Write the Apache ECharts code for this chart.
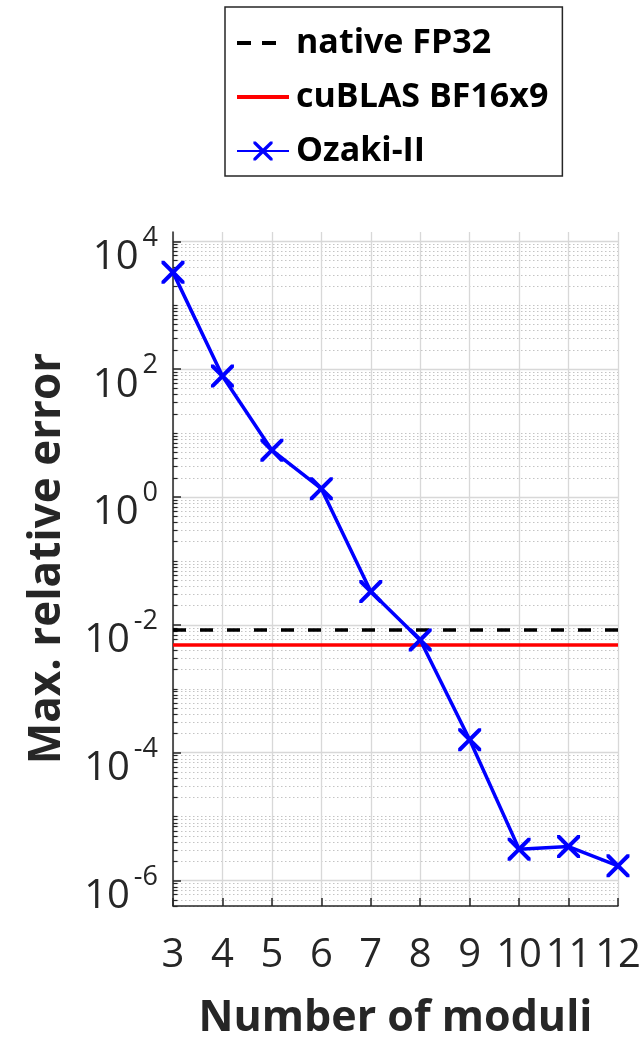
<!DOCTYPE html>
<html>
<head>
<meta charset="utf-8">
<script src="https://cdn.jsdelivr.net/npm/echarts@6/dist/echarts.min.js"></script>
<style>
  html, body { margin: 0; padding: 0; background: #fff; }
  #chart { width: 639px; height: 1038px; }
</style>
</head>
<body>
<div id="chart"></div>
<script>
// ---- data ----
const moduli = [3, 4, 5, 6, 7, 8, 9, 10, 11, 12];
const ozakiErr = [3270, 78, 5.4, 1.35, 0.0332, 0.0058, 1.6e-4, 3.1e-6, 3.4e-6, 1.7e-6];
const fp32Err = 8.3e-3;
const bf16x9Err = 4.8e-3;
const seriesNames = ['native FP32', 'cuBLAS BF16x9', 'Ozaki-II'];
const yMajorTicks = [1e-6, 1e-4, 1e-2, 1e0, 1e2, 1e4];
const yMinorMantissas = [2, 3, 4, 5, 6, 7, 8, 9];
const yDecades = [-7, -6, -5, -4, -3, -2, -1, 0, 1, 2, 3, 4];
const yOddDecadeTicks = [1e-5, 1e-3, 1e-1, 1e1, 1e3];
const yMin = 4e-7, yMax = 1.4e4;

const yMinorTicks = [];
yDecades.forEach(function (k) {
  yMinorMantissas.forEach(function (m) {
    yMinorTicks.push(Number((m * Math.pow(10, k)).toPrecision(3)));
  });
});
yOddDecadeTicks.forEach(function (v) { yMinorTicks.push(v); });

const FONT = 'Open Sans';
const XMARK = 'path://M0,0 L2.5,0 L10,7.5 L17.5,0 L20,0 L20,2.5 L12.5,10 L20,17.5 L20,20 L17.5,20 L10,12.5 L2.5,20 L0,20 L0,17.5 L7.5,10 L0,2.5 Z';
const DASH_ICON = 'path://M0,0 h14 v4 h-14 Z M25,0 h14 v4 h-14 Z M52,0 L52,4 L52,0 Z';
const SOLID_ICON = 'path://M0,0 h52 v4 h-52 Z';

const chart = echarts.init(document.getElementById('chart'), null, { renderer: 'canvas' });

const option = {
  animation: false,
  backgroundColor: '#ffffff',
  textStyle: { fontFamily: FONT },
  legend: {
    orient: 'vertical',
    left: 225,
    top: 7,
    data: [
      { name: seriesNames[0], icon: DASH_ICON },
      { name: seriesNames[1], icon: SOLID_ICON },
      { name: seriesNames[2] }
    ],
    itemWidth: 52,
    itemHeight: 24,
    itemGap: 20,
    padding: [19, 14, 8, 11],
    borderColor: '#262626',
    borderWidth: 1.5,
    backgroundColor: '#ffffff',
    selectedMode: false,
    textStyle: { fontFamily: FONT, fontSize: 34, fontWeight: 'bold', color: '#000000', padding: [0, 0, 0, 2] }
  },
  grid: {
    left: 173,
    right: 21,
    top: 232,
    bottom: 132,
    outerBoundsMode: 'none',
    containLabel: false
  },
  xAxis: {
    type: 'value',
    min: 3,
    max: 12,
    interval: 1,
    name: 'Number of moduli',
    nameLocation: 'middle',
    nameGap: 91,
    nameTextStyle: { fontFamily: FONT, fontSize: 43, fontWeight: 'bold', color: '#262626' },
    axisLine: { lineStyle: { color: '#262626', width: 1.5 } },
    axisTick: { inside: true, length: 8, lineStyle: { color: '#262626', width: 1.5 } },
    axisLabel: { margin: 30, fontFamily: FONT, fontSize: 40, color: '#262626' },
    splitLine: { show: true, lineStyle: { color: '#d8d8d8', width: 1.3 } }
  },
  yAxis: [
    {
      type: 'log',
      logBase: 10,
      min: yMin,
      max: yMax,
      name: 'Max. relative error',
      nameLocation: 'middle',
      nameGap: 104,
      nameTextStyle: { fontFamily: FONT, fontSize: 44, fontWeight: 'bold', color: '#262626', padding: [0, 0, 0, 21] },
      axisLine: { show: true, lineStyle: { color: '#262626', width: 1.5 } },
      axisTick: { show: true, inside: true, length: 8, customValues: yMajorTicks, lineStyle: { color: '#262626', width: 1.5 } },
      axisLabel: {
        customValues: yMajorTicks,
        margin: 15,
        formatter: function (v) {
          const e = Math.round(Math.log10(v));
          return '{b|10}{e|' + (e < 0 ? '-' + (-e) : e) + '}';
        },
        rich: {
          b: { fontFamily: FONT, fontSize: 40, lineHeight: 40, color: '#262626', padding: [32, 0, 0, 0] },
          e: { fontFamily: FONT, fontSize: 27, lineHeight: 27, color: '#262626', padding: [19, 0, 26, 4] }
        }
      },
      splitLine: { show: true, lineStyle: { color: '#d8d8d8', width: 1.3 } }
    },
    {
      type: 'log',
      logBase: 10,
      min: yMin,
      max: yMax,
      position: 'left',
      axisLine: { show: false },
      axisTick: { show: true, inside: true, length: 4.5, customValues: yMinorTicks, lineStyle: { color: '#262626', width: 1.2 } },
      axisLabel: { show: false },
      splitLine: { show: true, lineStyle: { color: '#c4c4c4', width: 1, type: [1.5, 2.5] } }
    }
  ],
  series: [
    {
      name: seriesNames[0],
      type: 'line',
      data: [],
      symbol: 'none',
      color: '#000000',
      lineStyle: { color: '#000000', width: 3.5, type: [13, 14] },
      z: 3,
      markLine: {
        silent: true,
        symbol: 'none',
        precision: 10,
        label: { show: false },
        lineStyle: { color: '#000000', width: 3.5, type: [13, 14] },
        data: [{ yAxis: fp32Err }]
      }
    },
    {
      name: seriesNames[1],
      type: 'line',
      data: [],
      symbol: 'none',
      color: '#ff0000',
      lineStyle: { color: '#ff0000', width: 3.5, type: 'solid' },
      z: 3,
      markLine: {
        silent: true,
        symbol: 'none',
        precision: 10,
        label: { show: false },
        lineStyle: { color: '#ff0000', width: 3.5, type: 'solid' },
        data: [{ yAxis: bf16x9Err }]
      }
    },
    {
      name: seriesNames[2],
      type: 'line',
      clip: false,
      data: moduli.map(function (m, i) { return [m, ozakiErr[i]]; }),
      symbol: XMARK,
      symbolSize: 23,
      showAllSymbol: true,
      color: '#0000ff',
      itemStyle: { color: '#0000ff' },
      lineStyle: { color: '#0000ff', width: 3.5 },
      z: 5
    }
  ]
};

chart.setOption(option);
</script>
</body>
</html>
